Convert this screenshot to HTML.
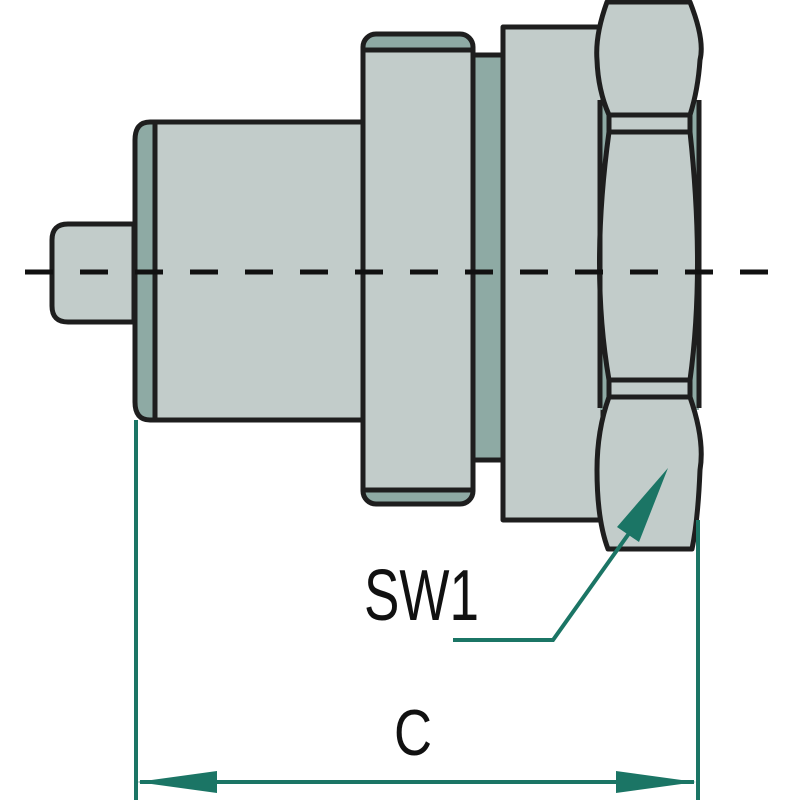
<!DOCTYPE html>
<html><head><style>html,body{margin:0;padding:0;background:#fff;}svg{display:block}</style></head>
<body>
<svg width="800" height="800" viewBox="0 0 800 800" xmlns="http://www.w3.org/2000/svg">
<g stroke="#1e1e1e" stroke-width="5" stroke-linejoin="round">
<path d="M134,224 H68 Q52,224 52,240 V306 Q52,322 68,322 H134 Z" fill="#c2ccca"/>
<path d="M155,122 H150 Q135,122 135,140 V402 Q135,420 150,420 H155 Z" fill="#8eaaa4"/>
<rect x="155" y="122" width="208" height="298" fill="#c2ccca"/>
<rect x="473" y="55" width="30" height="405" fill="#8eaaa4"/>
<rect x="363" y="34" width="110" height="470" rx="13" fill="#8eaaa4"/>
<rect x="363" y="50" width="110" height="440" fill="#c2ccca"/>
<rect x="503" y="27" width="100" height="493" fill="#c2ccca"/>
<rect x="600" y="100" width="99" height="310" fill="#8eaaa4" stroke="none"/>
<path d="M607,2 H690 Q705,40 700,60 Q698,90 690,115 H609 Q598,90 597,60 Q595,35 607,2 Z" fill="#c2ccca"/>
<rect x="609" y="115" width="81" height="17" fill="#c2ccca"/>
<path d="M609,132 H690 Q705,270 690,380 H609 Q590,270 609,132 Z" fill="#c2ccca"/>
<rect x="609" y="380" width="81" height="17" fill="#c2ccca"/>
<path d="M609,397 H690 Q705,440 700,470 Q698,520 692,549 H608 Q597,520 597,470 Q597,430 609,397 Z" fill="#c2ccca"/>
<line x1="600" y1="100" x2="600" y2="408"/>
<line x1="699" y1="100" x2="699" y2="408"/>
</g>
<line x1="25" y1="272" x2="780" y2="272" stroke="#111" stroke-width="5" stroke-dasharray="28,27"/>
<g stroke="#1b7565" stroke-width="4" fill="none">
<line x1="136" y1="420" x2="136" y2="800"/>
<line x1="698" y1="520" x2="698" y2="800"/>
<line x1="140" y1="782" x2="694" y2="782"/>
<polyline points="453,640 553,640 640,518"/>
</g>
<g fill="#1b7565">
<polygon points="137,782 217,771 217,793"/>
<polygon points="696,782 616,771 616,793"/>
<polygon points="668,468 617,527 639,542"/>
</g>
<text x="364" y="620" font-family="Liberation Sans, sans-serif" font-size="72" textLength="115" lengthAdjust="spacingAndGlyphs" fill="#111">SW1</text>
<text x="394" y="755" font-family="Liberation Sans, sans-serif" font-size="65" textLength="38" lengthAdjust="spacingAndGlyphs" fill="#111">C</text>
</svg>
</body></html>
